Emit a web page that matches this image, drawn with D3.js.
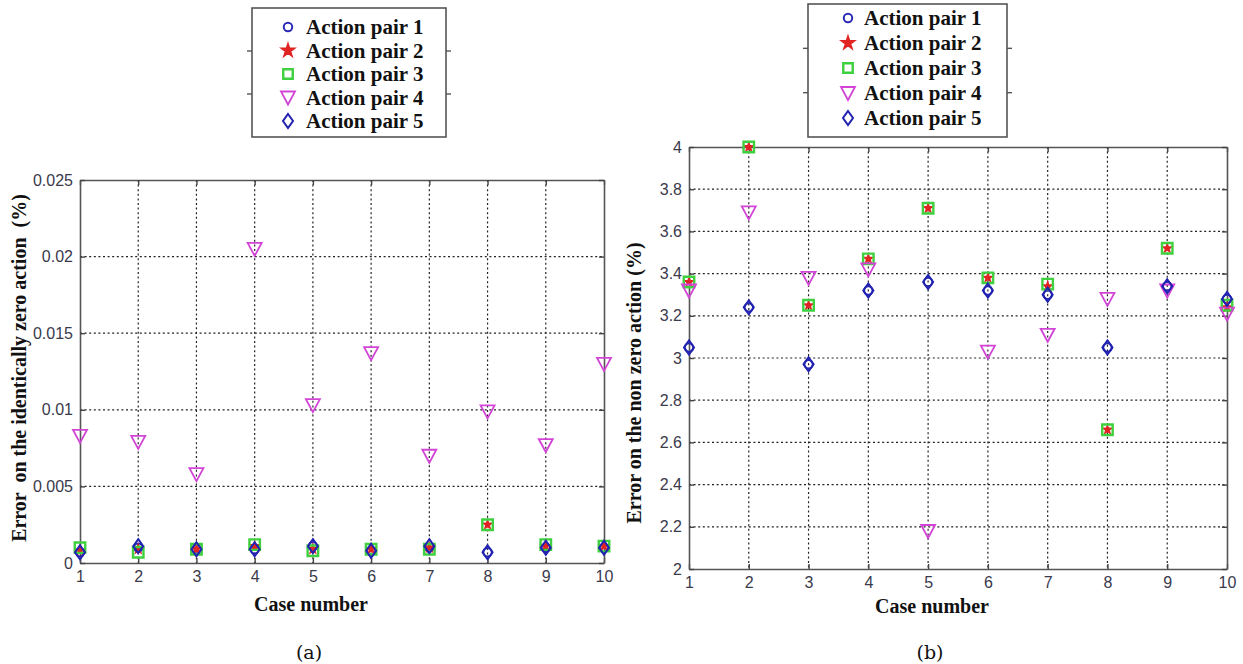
<!DOCTYPE html>
<html>
<head>
<meta charset="utf-8">
<script src="https://cdn.jsdelivr.net/npm/d3@7"></script>
<style>
  body { margin: 0; background: #fff; }
  svg { display: block; }
</style>
</head>
<body>
<div id="chart"></div>
<script>
// case numbers on x
var caseNum = [1, 2, 3, 4, 5, 6, 7, 8, 9, 10];
var seriesNames = ['Action pair 1', 'Action pair 2', 'Action pair 3', 'Action pair 4', 'Action pair 5'];

// panel (a) - error on the identically zero action (%)
var a1 = [0.0007, 0.0010, 0.0009, 0.0009, 0.0011, 0.0008, 0.0010, 0.0007, 0.0010, 0.0010];
var a2 = [0.0008, 0.0009, 0.0009, 0.0011, 0.0009, 0.0009, 0.0010, 0.0025, 0.0011, 0.0011];
var a3 = [0.0010, 0.0007, 0.0009, 0.0012, 0.0008, 0.0009, 0.0009, 0.0025, 0.0012, 0.0011];
var a4 = [0.0083, 0.0079, 0.0058, 0.0205, 0.0103, 0.0137, 0.0070, 0.0099, 0.0077, 0.0130];
var a5 = [0.0007, 0.0011, 0.0009, 0.0009, 0.0011, 0.0008, 0.0011, 0.0007, 0.0010, 0.0010];
var aTicks = [0, 0.005, 0.01, 0.015, 0.02, 0.025];

// panel (b) - error on the non zero action (%)
var b1 = [3.05, 3.24, 2.97, 3.32, 3.36, 3.32, 3.30, 3.05, 3.34, 3.28];
var b2 = [3.36, 4.00, 3.25, 3.47, 3.71, 3.38, 3.34, 2.66, 3.52, 3.24];
var b3 = [3.36, 4.00, 3.25, 3.47, 3.71, 3.38, 3.35, 2.66, 3.52, 3.25];
var b4 = [3.32, 3.69, 3.38, 3.42, 2.18, 3.03, 3.11, 3.28, 3.32, 3.21];
var b5 = [3.05, 3.24, 2.97, 3.32, 3.36, 3.32, 3.30, 3.05, 3.34, 3.28];
var bTicks = [2, 2.2, 2.4, 2.6, 2.8, 3, 3.2, 3.4, 3.6, 3.8, 4];

var width = 1243, height = 664;

var svg = d3.select('#chart').append('svg')
  .attr('width', width)
  .attr('height', height);

var serif = '"Liberation Serif", "Times New Roman", serif';
var sans = '"Liberation Sans", Arial, sans-serif';

var markers = [
  {type: d3.symbolCircle, size: 56, legSize: 56, color: '#2a2ab8', fill: 'none', sw: 2},
  {type: d3.symbolStar, size: 22, legSize: 55, color: '#e02424', fill: '#e02424', sw: 1.5},
  {type: d3.symbolSquare, size: 110, legSize: 90, color: '#3fd03f', fill: 'none', sw: 2.4},
  {type: 'tri', color: '#d244d6', fill: 'none', sw: 1.8},
  {type: 'dia', color: '#2222b0', fill: 'none', sw: 2}
];

function markerPath(m, legend) {
  if (m.type === 'tri') return 'M-7,-6L7,-6L0,7Z';
  if (m.type === 'dia') return 'M0,-7L5,0L0,7L-5,0Z';
  return d3.symbol().type(m.type).size(legend ? m.legSize : m.size)();
}

function drawPanel(p) {
  var g = svg.append('g');
  var x = d3.scaleLinear().domain([1, 10]).range([p.left, p.right]);
  var y = d3.scaleLinear().domain(p.domain).range([p.bottom, p.top]);

  // dotted grid
  g.selectAll('.gx').data(caseNum.slice(1, -1)).enter().append('line')
    .attr('x1', d => x(d)).attr('x2', d => x(d))
    .attr('y1', p.top).attr('y2', p.bottom)
    .attr('stroke', '#222').attr('stroke-width', 1.2).attr('stroke-dasharray', '2,2.6');
  g.selectAll('.gy').data(p.ticks.slice(1, -1)).enter().append('line')
    .attr('y1', d => y(d)).attr('y2', d => y(d))
    .attr('x1', p.left).attr('x2', p.right)
    .attr('stroke', '#222').attr('stroke-width', 1.2).attr('stroke-dasharray', '2,2.6');

  // axes with inward ticks on all sides
  var axB = g.append('g').attr('transform', 'translate(0,' + p.bottom + ')')
    .call(d3.axisBottom(x).tickValues(caseNum).tickSizeInner(-5).tickSizeOuter(0).tickPadding(8));
  var axT = g.append('g').attr('transform', 'translate(0,' + p.top + ')')
    .call(d3.axisTop(x).tickValues(caseNum).tickSizeInner(-5).tickSizeOuter(0).tickFormat(''));
  var axL = g.append('g').attr('transform', 'translate(' + p.left + ',0)')
    .call(d3.axisLeft(y).tickValues(p.ticks).tickSizeInner(-5).tickSizeOuter(0).tickPadding(7).tickFormat(d3.format('')));
  var axR = g.append('g').attr('transform', 'translate(' + p.right + ',0)')
    .call(d3.axisRight(y).tickValues(p.ticks).tickSizeInner(-5).tickSizeOuter(0).tickFormat(''));
  [axB, axT, axL, axR].forEach(function (ax) {
    ax.select('.domain').attr('stroke', '#555').attr('stroke-width', 1.6);
    ax.selectAll('.tick line').attr('stroke', '#444').attr('stroke-width', 1.4);
    ax.selectAll('text').attr('font-family', sans).attr('font-size', 16)
      .attr('fill', '#3a3a4c');
  });

  // markers, drawn in series order like the original
  p.series.forEach(function (vals, i) {
    var m = markers[i];
    g.selectAll('.m' + i).data(vals).enter().append('path')
      .attr('d', markerPath(m, false))
      .attr('transform', (d, j) => 'translate(' + x(caseNum[j]) + ',' + y(d) + ')')
      .attr('fill', m.fill)
      .attr('stroke', m.color)
      .attr('stroke-width', m.sw);
  });

  // axis titles
  g.append('text')
    .attr('x', p.xlabX).attr('y', p.xlabY)
    .attr('text-anchor', 'middle')
    .attr('font-family', serif).attr('font-weight', 'bold').attr('font-size', 20)
    .attr('fill', '#111')
    .text('Case number');
  g.append('text')
    .attr('transform', 'translate(' + p.ylabX + ',' + p.ylabY + ') rotate(-90)')
    .attr('text-anchor', 'middle')
    .attr('font-family', serif).attr('font-weight', 'bold').attr('font-size', p.ylabSize)
    .attr('fill', '#111')
    .attr('xml:space', 'preserve')
    .text(p.ylab);

  // legend box
  var lg = svg.append('g');
  lg.append('rect')
    .attr('x', p.leg.x).attr('y', p.leg.y).attr('width', p.leg.w).attr('height', p.leg.h)
    .attr('fill', '#fff').attr('stroke', '#555').attr('stroke-width', 1.6);
  [1 / 3, 2 / 3].forEach(function (f) {
    var yy = p.leg.y + p.leg.h * f;
    lg.append('line').attr('x1', p.leg.x - 5).attr('x2', p.leg.x).attr('y1', yy).attr('y2', yy)
      .attr('stroke', '#555').attr('stroke-width', 1.4);
    lg.append('line').attr('x1', p.leg.x + p.leg.w).attr('x2', p.leg.x + p.leg.w + 5).attr('y1', yy).attr('y2', yy)
      .attr('stroke', '#555').attr('stroke-width', 1.4);
  });
  seriesNames.forEach(function (name, i) {
    var yy = p.leg.y + p.leg.first + i * p.leg.step;
    var m = markers[i];
    lg.append('path')
      .attr('d', markerPath(m, true))
      .attr('transform', 'translate(' + (p.leg.x + p.leg.mDx) + ',' + yy + ')')
      .attr('fill', m.fill).attr('stroke', m.color).attr('stroke-width', m.sw);
    lg.append('text')
      .attr('x', p.leg.x + p.leg.tDx).attr('y', yy + 7)
      .attr('font-family', serif).attr('font-weight', 'bold').attr('font-size', 21)
      .attr('fill', '#111')
      .text(name);
  });

  // sub caption
  svg.append('text')
    .attr('x', p.capX).attr('y', 659)
    .attr('text-anchor', 'middle')
    .attr('font-family', '"DejaVu Serif", serif').attr('font-size', 19)
    .attr('fill', '#111')
    .text(p.caption);
}

drawPanel({
  left: 80, right: 604, top: 180, bottom: 563,
  domain: [0, 0.025], ticks: aTicks,
  series: [a1, a2, a3, a4, a5],
  ylab: 'Error  on the identically zero action  (%)', ylabX: 26, ylabY: 368, ylabSize: 20,
  xlabX: 311, xlabY: 611,
  leg: {x: 252, y: 8, w: 194, h: 129, first: 19, step: 23.5, mDx: 36, tDx: 54},
  capX: 309, caption: '(a)'
});

drawPanel({
  left: 689, right: 1227, top: 147, bottom: 569,
  domain: [2, 4], ticks: bTicks,
  series: [b1, b2, b3, b4, b5],
  ylab: 'Error on the non zero action (%)', ylabX: 641, ylabY: 383, ylabSize: 20,
  xlabX: 932, xlabY: 613,
  leg: {x: 808, y: 4, w: 199, h: 133, first: 14, step: 25, mDx: 40, tDx: 56},
  capX: 930, caption: '(b)'
});
</script>
</body>
</html>
